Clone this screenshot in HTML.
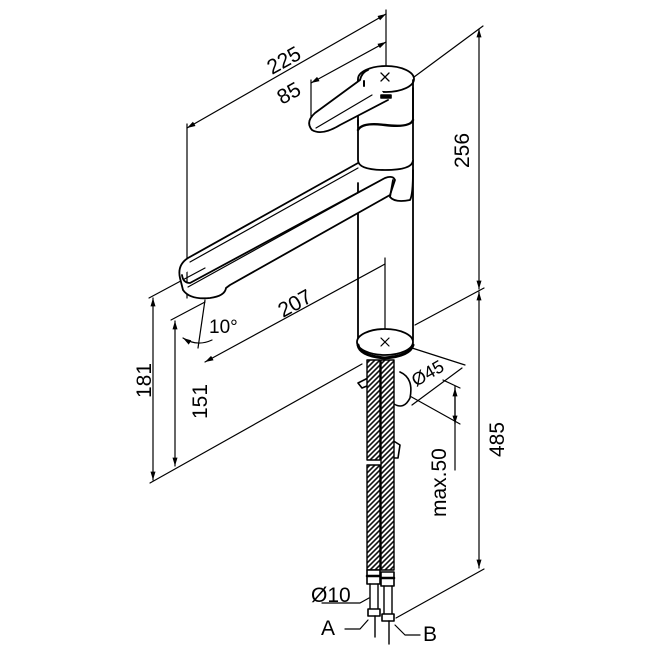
<!DOCTYPE html>
<html><head><style>body{margin:0;background:#fff}svg{display:block}</style></head><body>
<svg width="657" height="657" viewBox="0 0 657 657" xmlns="http://www.w3.org/2000/svg">
<defs>
<pattern id="br" width="5" height="5" patternUnits="userSpaceOnUse">
<rect width="5" height="5" fill="#fff"/>
<path d="M0 5L5 0M-1 1L1 -1M4 6L6 4" stroke="#111" stroke-width="1.6"/>
</pattern>
<marker id="ar" viewBox="0 0 10 10" refX="10" refY="5" markerWidth="7" markerHeight="7" orient="auto-start-reverse"><path d="M0 2L10 5L0 8z" fill="#000"/></marker>
</defs>
<g fill="none" stroke="#000" stroke-width="1.6" stroke-linecap="round" stroke-linejoin="round">
<line x1="187" y1="128" x2="386" y2="14" marker-start="url(#ar)" marker-end="url(#ar)" stroke-width="1.2"/>
<line x1="187" y1="124" x2="187" y2="298" stroke-width="1.2"/>
<line x1="386" y1="10" x2="386" y2="80" stroke-width="1.2"/>
<line x1="311" y1="83" x2="386" y2="42" marker-start="url(#ar)" marker-end="url(#ar)" stroke-width="1.2"/>
<line x1="311" y1="80" x2="311" y2="118" stroke-width="1.2"/>
<line x1="479" y1="29" x2="479" y2="289" marker-start="url(#ar)" marker-end="url(#ar)" stroke-width="1.2"/>
<line x1="410" y1="80" x2="483" y2="26" stroke-width="1.2"/>
<line x1="415" y1="325" x2="484" y2="288" stroke-width="1.2"/>
<line x1="479" y1="292" x2="479" y2="568" marker-start="url(#ar)" marker-end="url(#ar)" stroke-width="1.2"/>
<line x1="396" y1="618" x2="484" y2="569" stroke-width="1.2"/>
<line x1="205" y1="362" x2="385" y2="264" marker-start="url(#ar)" stroke-width="1.2"/>
<line x1="385" y1="258" x2="385" y2="350" stroke-width="1.2"/>
<line x1="153" y1="298" x2="153" y2="480" marker-start="url(#ar)" marker-end="url(#ar)" stroke-width="1.2"/>
<line x1="149" y1="298" x2="205" y2="268" stroke-width="1.2"/>
<line x1="150" y1="483" x2="362" y2="364" stroke-width="1.2"/>
<line x1="175" y1="321" x2="175" y2="466" marker-start="url(#ar)" marker-end="url(#ar)" stroke-width="1.2"/>
<line x1="171" y1="320" x2="205" y2="302" stroke-width="1.2"/>
<line x1="205" y1="300" x2="198" y2="348" stroke-width="1.2"/>
<path d="M212 340 Q197 347 183 338" stroke-width="1.2" marker-end="url(#ar)"/>
<line x1="455" y1="386" x2="455" y2="470" stroke-width="1.2"/>
<line x1="455" y1="388" x2="455" y2="424" marker-start="url(#ar)" marker-end="url(#ar)" stroke-width="1.2"/>
<line x1="408" y1="395" x2="460" y2="424" stroke-width="1.2"/>
<line x1="443" y1="380" x2="460" y2="388" stroke-width="1.2"/>
<line x1="412" y1="348" x2="465" y2="365" stroke-width="1.2"/>
<line x1="412" y1="405" x2="462" y2="368" stroke-width="1.2"/>

<path d="M358 183 L358 340 M413 88 L413 340" stroke-width="1.8"/>
<path d="M358 120 L358 160 Q358 170 385 170 Q413 170 413 160" stroke-width="1.8" fill="#fff"/>
<path d="M358 130 Q362 122 385 125 Q410 128 413 120" stroke-width="2.4"/>
<ellipse cx="386" cy="79" rx="28" ry="13" fill="#fff" stroke-width="1.8"/>
<path d="M358 80 L358 125 M413 80 L413 120" stroke-width="1.8"/>
<path d="M368 70 Q362 72 360 80 L315 113 Q305 122 312 130 Q322 136 340 125 L388 100" fill="#fff" stroke-width="1.8"/>
<path d="M316 128 L372 95" stroke-width="1.2"/>
<path d="M381 73l8 8M389 73l-8 8" stroke-width="1.3"/>
<rect x="381" y="95" width="10" height="3" fill="#000"/>
<line x1="364" y1="81" x2="364" y2="86" stroke-width="2"/>
<path d="M358 163 L188 258 Q177 265 180 278 L183 290 Q190 300 210 298 Q225 296 226 288 L230 285 L390 195 L395 180 Q393 175 385 178 L190 283 Q183 283 182 275" fill="#fff" stroke-width="1.8"/>
<path d="M358 168 L190 262" stroke-width="1.2"/>
<path d="M385 178 L188 287" stroke-width="1.2"/>
<path d="M393 180 L390 197 Q395 203 410 200 Q413 195 413 170" stroke-width="1.8"/>
<ellipse cx="385" cy="342" rx="28" ry="13" fill="#fff" stroke-width="1.8"/>
<path d="M358 345 Q360 356 385 358 Q410 356 413 345" stroke-width="3"/>
<path d="M381 338l8 8M389 338l-8 8" stroke-width="1.2"/>
<path d="M368 378 L358 383 L362 388 L372 384" fill="#fff"/>
<path d="M400 372 Q414 378 410 398 Q404 410 394 404" fill="#fff"/>
<path d="M392 440 L400 445 L398 458 L392 458" />
<rect x="367" y="360" width="13" height="100" fill="url(#br)" stroke-width="1.4"/>
<rect x="381" y="360" width="13" height="210" fill="url(#br)" stroke-width="1.4"/>
<rect x="367" y="465" width="13" height="105" fill="url(#br)" stroke-width="1.4"/>
<rect x="367" y="570" width="13" height="14" fill="#fff" stroke-width="1.6"/>
<rect x="381" y="572" width="13" height="14" fill="#fff" stroke-width="1.6"/>
<line x1="367" y1="576" x2="380" y2="576" stroke-width="2.5"/>
<line x1="381" y1="578" x2="394" y2="578" stroke-width="2.5"/>
<path d="M370 584 L370 610 M378 584 L378 610 M384 586 L384 615 M392 586 L392 615" stroke-width="1.4"/>
<rect x="368" y="609" width="12" height="7" fill="#fff" stroke-width="1.6"/>
<rect x="382" y="614" width="12" height="7" fill="#fff" stroke-width="1.6"/>
<line x1="375" y1="616" x2="375" y2="637" stroke-width="1.4"/>
<line x1="389" y1="621" x2="389" y2="644" stroke-width="1.4"/>
<path d="M322 603 L360 603 L369 598" stroke-width="1.2"/>
<path d="M345 629 L360 629 L368 620" stroke-width="1.2"/>
<path d="M420 635 L405 635 L395 625" stroke-width="1.2"/>
</g>
<g font-family="Liberation Sans, sans-serif" font-size="21" fill="#000">
<text transform="translate(272 75) rotate(-29)">225</text>
<text transform="translate(282 105) rotate(-29)">85</text>
<text transform="translate(469 168) rotate(-90)">256</text>
<text transform="translate(283 318) rotate(-29)">207</text>
<text transform="translate(209 333)" font-size="19">10°</text>
<text transform="translate(151 398) rotate(-90)">181</text>
<text transform="translate(207 419) rotate(-90)">151</text>
<text transform="translate(504 457) rotate(-90)">485</text>
<text transform="translate(446 517) rotate(-90)">max.50</text>
<text transform="translate(416 387) rotate(-30)" font-size="18">Ø45</text>
<text x="311" y="602">Ø10</text>
<text x="321" y="635">A</text>
<text x="423" y="641">B</text>
</g>
</svg>
</body></html>
